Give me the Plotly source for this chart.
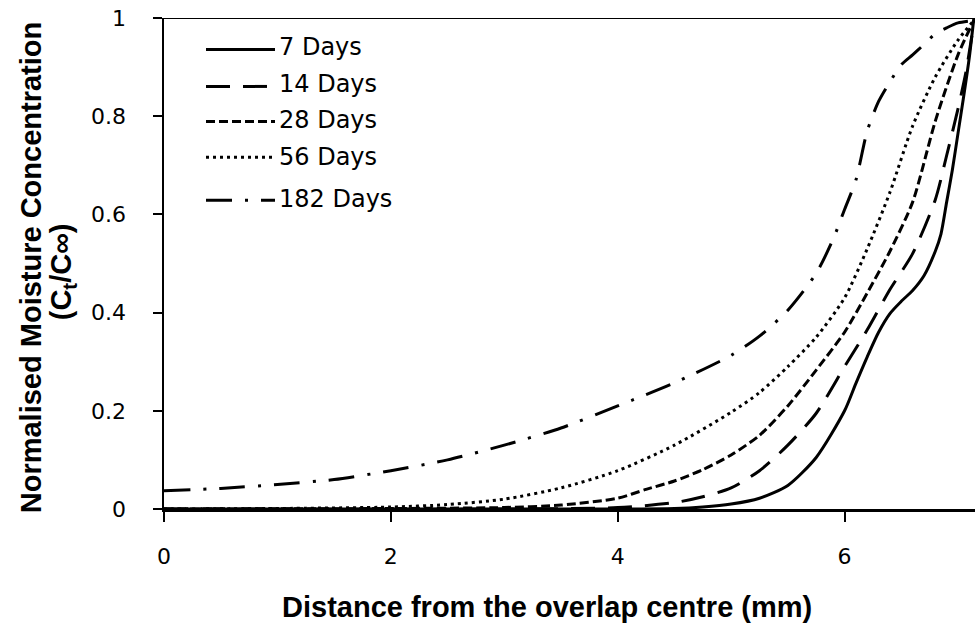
import plotly.graph_objects as go

# ---- data ----
x7 = [0, 4.0, 4.5, 4.75, 5.0, 5.25, 5.5, 5.75, 6.0, 6.1, 6.2, 6.3, 6.4, 6.5, 6.6, 6.7, 6.8, 6.85, 6.9, 6.95, 7.0, 7.05, 7.1, 7.14]
y7 = [0, 0.0, 0.001, 0.004, 0.01, 0.022, 0.048, 0.105, 0.2, 0.256, 0.31, 0.36, 0.398, 0.423, 0.445, 0.475, 0.525, 0.56, 0.625, 0.69, 0.765, 0.84, 0.92, 1.0]

x14 = [0, 3.0, 4.0, 4.5, 4.75, 5.0, 5.25, 5.5, 5.75, 6.0, 6.2, 6.4, 6.6, 6.8, 6.9, 7.0, 7.07, 7.14]
y14 = [0, 0.0, 0.003, 0.013, 0.025, 0.043, 0.078, 0.13, 0.195, 0.29, 0.365, 0.447, 0.52, 0.63, 0.72, 0.815, 0.89, 0.99]

x28 = [0, 2.0, 3.0, 3.5, 4.0, 4.25, 4.5, 4.75, 5.0, 5.25, 5.5, 5.75, 6.0, 6.2, 6.4, 6.6, 6.8, 7.0, 7.14]
y28 = [0, 0.001, 0.003, 0.008, 0.022, 0.04, 0.057, 0.08, 0.11, 0.15, 0.21, 0.283, 0.36, 0.44, 0.525, 0.625, 0.79, 0.925, 0.995]

x56 = [0, 1.0, 2.0, 2.5, 3.0, 3.5, 4.0, 4.5, 5.0, 5.25, 5.5, 5.75, 6.0, 6.2, 6.4, 6.6, 6.8, 7.0, 7.14]
y56 = [0, 0.001, 0.004, 0.009, 0.02, 0.043, 0.078, 0.13, 0.197, 0.237, 0.29, 0.35, 0.43, 0.53, 0.645, 0.78, 0.88, 0.955, 0.995]

x182 = [0, 0.5, 1.0, 1.5, 2.0, 2.5, 3.0, 3.5, 4.0, 4.5, 5.0, 5.25, 5.5, 5.75, 5.9, 6.0, 6.1, 6.2, 6.3, 6.4, 6.5, 6.6, 6.7, 6.8, 6.9, 7.0, 7.14]
y182 = [0.037, 0.042, 0.05, 0.06, 0.078, 0.10, 0.13, 0.165, 0.21, 0.257, 0.313, 0.352, 0.405, 0.48, 0.55, 0.61, 0.67, 0.77, 0.83, 0.87, 0.905, 0.925, 0.946, 0.968, 0.98, 0.99, 0.995]

series_names = ["7 Days", "14 Days", "28 Days", "56 Days", "182 Days"]
series_x = [x7, x14, x28, x56, x182]
series_y = [y7, y14, y28, y56, y182]
dashes = ["solid", "24px,13px", "9px,4px", "3px,4px", "26px,13px,3px,13px"]

x_ticks = [0, 2, 4, 6]
y_ticks = [0, 0.2, 0.4, 0.6, 0.8, 1]
y_tick_labels = ["0", "0.2", "0.4", "0.6", "0.8", "1"]

# ---- layout geometry (screenshot pixels; body margin removed via post_script) ----
W, H = 976, 641
PLOT_L, PLOT_R, PLOT_T, PLOT_B = 164, 975, 17.5, 509
L = PLOT_L
R = W - PLOT_R
T = PLOT_T
B = H - PLOT_B
PW, PH = PLOT_R - PLOT_L, PLOT_B - PLOT_T

def px(xp):
    return (xp - PLOT_L) / PW

def py(yp):
    return (PLOT_B - yp) / PH

fig = go.Figure()
for name, xs, ys, d in zip(series_names, series_x, series_y, dashes):
    fig.add_trace(go.Scatter(x=xs, y=ys, mode="lines", name=name,
                             line=dict(color="black", width=3, dash=d, shape="spline", smoothing=0.7),
                             showlegend=False, hoverinfo="skip"))

tickfont = dict(family="DejaVu Sans", size=22, color="black")
fig.update_layout(
    width=W, height=H,
    margin=dict(l=L, r=R, t=T, b=B, autoexpand=False),
    paper_bgcolor="white", plot_bgcolor="white",
    hovermode=False,
    xaxis=dict(range=[0, 7.15], tickvals=x_ticks, ticktext=[str(v) for v in x_ticks],
               showline=True, linecolor="black", linewidth=2.5, ticks="outside", ticklen=10,
               tickwidth=2, tickcolor="black", showgrid=False, zeroline=False,
               tickfont=tickfont, ticklabelstandoff=16, ticklabeloverflow="allow"),
    yaxis=dict(range=[0, 1], tickvals=y_ticks, ticktext=y_tick_labels,
               showline=True, linecolor="black", linewidth=2.5, ticks="outside", ticklen=9,
               tickwidth=2, tickcolor="black", showgrid=False, zeroline=False,
               tickfont=tickfont, ticklabelstandoff=22, ticklabeloverflow="allow"),
)

# top line at y = 1
fig.add_shape(type="line", xref="paper", yref="y", x0=px(155), x1=1, y0=1, y1=1,
              line=dict(color="black", width=2))

# custom legend
leg_line_y = [49, 86, 121, 157, 200]
leg_text_y = [47, 84, 120, 157, 199]
for name, d, ly, ty in zip(series_names, dashes, leg_line_y, leg_text_y):
    fig.add_shape(type="line", xref="paper", yref="paper", x0=px(206), x1=px(275),
                  y0=py(ly), y1=py(ly), line=dict(color="black", width=3, dash=d))
    fig.add_annotation(x=px(277), y=py(ty), xref="paper", yref="paper", text=name,
                       showarrow=False, xanchor="left", yanchor="middle",
                       font=dict(family="DejaVu Sans", size=24, color="black"))

titlefont = dict(family="Liberation Sans", size=29, color="black")
fig.add_annotation(x=px(547), y=py(607), xref="paper", yref="paper",
                   text="<b>Distance from the overlap centre (mm)</b>", showarrow=False,
                   xanchor="center", yanchor="middle", font=titlefont)
fig.add_annotation(x=px(31), y=py(268), xref="paper", yref="paper",
                   text="<b>Normalised Moisture Concentration</b>", showarrow=False,
                   textangle=-90, xanchor="center", yanchor="middle", font=titlefont)
fig.add_annotation(x=px(63), y=py(272), xref="paper", yref="paper",
                   text="<b>(C<sub>t</sub>/C∞)</b>", showarrow=False,
                   textangle=-90, xanchor="center", yanchor="middle", font=titlefont)

fig.write_html("out.html", config={"displayModeBar": False, "staticPlot": True},
               post_script="document.body.style.margin='0';document.body.style.overflow='hidden';")
